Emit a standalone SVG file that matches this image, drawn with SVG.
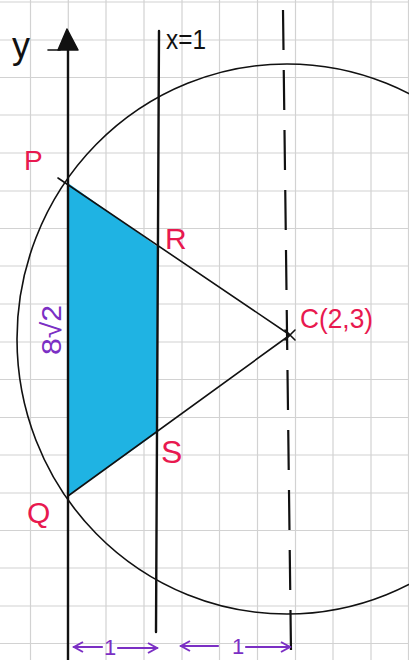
<svg xmlns="http://www.w3.org/2000/svg" width="409" height="660" viewBox="0 0 409 660">
<defs>
<style>
.grid line{stroke:#d2d2d2;stroke-width:1.2}
.ink{stroke:#111;stroke-width:1.6;fill:none;stroke-linecap:round}
.thick{stroke:#111;stroke-width:2.4;fill:none;stroke-linecap:round}
.pink{fill:#e8194f;font-family:"Liberation Sans",sans-serif}
.purple{fill:#7b2fc4;font-family:"Liberation Sans",sans-serif}
.pl{stroke:#7b2fc4;stroke-width:2.2;fill:none;stroke-linecap:round;stroke-linejoin:round}
</style>
<marker id="ah" viewBox="0 0 12 12" refX="10" refY="6" markerWidth="12" markerHeight="12" markerUnits="userSpaceOnUse" orient="auto-start-reverse">
<path d="M1,1 L10,6 L1,11" fill="none" stroke="#7b2fc4" stroke-width="2"/>
</marker>
</defs>
<rect width="409" height="660" fill="#ffffff"/>
<g class="grid" id="grid">
<line x1="30.5" y1="0" x2="30.5" y2="660"/><line x1="68.3" y1="0" x2="68.3" y2="660"/><line x1="106" y1="0" x2="106" y2="660"/><line x1="144" y1="0" x2="144" y2="660"/><line x1="182" y1="0" x2="182" y2="660"/><line x1="219.5" y1="0" x2="219.5" y2="660"/><line x1="257.5" y1="0" x2="257.5" y2="660"/><line x1="295.5" y1="0" x2="295.5" y2="660"/><line x1="333" y1="0" x2="333" y2="660"/><line x1="371" y1="0" x2="371" y2="660"/><line x1="408.5" y1="0" x2="408.5" y2="660"/>
<line x1="0" y1="2" x2="409" y2="2"/><line x1="0" y1="40" x2="409" y2="40"/><line x1="0" y1="77.5" x2="409" y2="77.5"/><line x1="0" y1="115" x2="409" y2="115"/><line x1="0" y1="153" x2="409" y2="153"/><line x1="0" y1="191" x2="409" y2="191"/><line x1="0" y1="228.5" x2="409" y2="228.5"/><line x1="0" y1="266" x2="409" y2="266"/><line x1="0" y1="304" x2="409" y2="304"/><line x1="0" y1="342" x2="409" y2="342"/><line x1="0" y1="379.5" x2="409" y2="379.5"/><line x1="0" y1="417.5" x2="409" y2="417.5"/><line x1="0" y1="455" x2="409" y2="455"/><line x1="0" y1="493" x2="409" y2="493"/><line x1="0" y1="530.5" x2="409" y2="530.5"/><line x1="0" y1="568" x2="409" y2="568"/><line x1="0" y1="606" x2="409" y2="606"/><line x1="0" y1="643.5" x2="409" y2="643.5"/>
</g>
<g id="shaded-region">
<polygon points="68,183 158,247 158,432 68,496" fill="#1fb3e3"/>
</g>
<g id="circle">
<ellipse cx="287" cy="339" rx="270" ry="275" class="ink"/>
</g>
<g id="connectors">
<line x1="58" y1="178" x2="290" y2="335" class="ink"/>
<line x1="68" y1="496" x2="290" y2="335" class="ink"/>
</g>
<g id="y-axis">
<line x1="68" y1="40" x2="68" y2="660" class="thick"/>
<polygon points="67,29 58,50 78,50" fill="#111" stroke="#111" stroke-width="1.5" stroke-linejoin="round"/>
<line x1="48" y1="50" x2="60" y2="50" class="ink"/>
<text x="12" y="58" font-family="Liberation Sans,sans-serif" font-size="36" fill="#111">y</text>
</g>
<g id="line-x1">
<line x1="159" y1="31" x2="156" y2="632" class="thick"/>
<text x="166" y="49" font-family="Liberation Sans,sans-serif" font-size="27" fill="#111" textLength="40" lengthAdjust="spacingAndGlyphs">x=1</text>
</g>
<g id="line-x2">
<line x1="283" y1="10" x2="291" y2="652" stroke="#111" stroke-width="2.2" stroke-dasharray="40 20"/>
</g>
<g id="point-C">
<path d="M285,330 L295,340 M295,330 L285,340" class="ink"/>
<text x="300" y="328" class="pink" font-size="28" textLength="73" lengthAdjust="spacingAndGlyphs">C(2,3)</text>
</g>
<g id="point-P"><text x="24" y="170" class="pink" font-size="28">P</text></g>
<g id="point-R"><text x="165" y="249" class="pink" font-size="30">R</text></g>
<g id="point-S"><text x="161" y="463" class="pink" font-size="32">S</text></g>
<g id="point-Q"><text x="27" y="523" class="pink" font-size="30">Q</text></g>
<g id="length-PQ">
<text x="0" y="0" class="purple" font-size="28" text-anchor="middle" transform="translate(61,330) rotate(-90)" textLength="50" lengthAdjust="spacingAndGlyphs">8√2</text>
</g>
<g id="unit-arrows">
<line x1="74" y1="647" x2="102" y2="647" class="pl" marker-start="url(#ah)"/>
<text x="110" y="655" class="purple" font-size="22" text-anchor="middle">1</text>
<line x1="118" y1="648" x2="157" y2="648" class="pl" marker-end="url(#ah)"/>
<line x1="181" y1="646" x2="218" y2="646" class="pl" marker-start="url(#ah)"/>
<text x="238" y="654" class="purple" font-size="22" text-anchor="middle">1</text>
<line x1="246" y1="647" x2="290" y2="647" class="pl" marker-end="url(#ah)"/>
</g>
</svg>
